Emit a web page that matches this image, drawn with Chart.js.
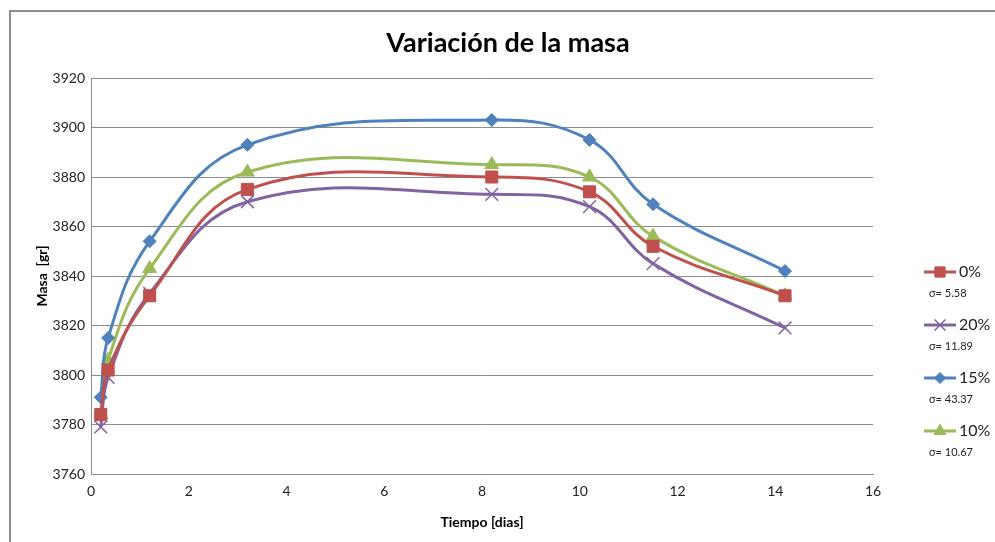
<!DOCTYPE html>
<html>
<head>
<meta charset="utf-8">
<script src="https://cdn.jsdelivr.net/npm/chart.js@4/dist/chart.umd.min.js"></script>
<style>
  html, body { margin: 0; padding: 0; background: #fff; }
  #wrap { position: relative; width: 995px; height: 542px; overflow: hidden; }
  #frame { position: absolute; left: 9px; top: 10px; width: 1000px; height: 600px; border: 2px solid #8c8c8c; box-sizing: border-box; }
  #masaChart { position: absolute; left: 0; top: 0; }
</style>
</head>
<body>
<div id="wrap">
  <div id="frame"></div>
  <canvas id="masaChart" width="995" height="542"></canvas>
</div>
<script>
// tiempo en dias
var tiempo = [0.2, 0.35, 1.2, 3.2, 8.2, 10.2, 11.5, 14.2]

// masa [gr] por porcentaje
var masa0 = [3784, 3802, 3832, 3875, 3880, 3874, 3852, 3832]
var masa20 = [3779, 3799, 3833, 3870, 3873, 3868, 3845, 3819]
var masa15 = [3791, 3815, 3854, 3893, 3903, 3895, 3869, 3842]
var masa10 = [3784, 3806, 3843, 3882, 3885, 3880, 3856, 3832]

var etiquetas = ['0%', '20%', '15%', '10%']
var sigmas = ['σ= 5.58', 'σ= 11.89', 'σ= 43.37', 'σ= 10.67']
var colores = ['#C0504D', '#8064A2', '#4F81BD', '#9BBB59']
var marcadores = ['rect', 'crossRot', 'rectRot', 'triangle']
var radios = [8.5, 9, 6.5, 8]

var yTicks = [3760, 3780, 3800, 3820, 3840, 3860, 3880, 3900, 3920]
var xTicks = [0, 2, 4, 6, 8, 10, 12, 14, 16]

var titulo = 'Variación de la masa'
var fuente = 'Lato, "Open Sans", sans-serif'

function puntos(serie) {
    return tiempo.map(function (t, i) { return { x: t, y: serie[i] } })
}

var series = [masa0, masa20, masa15, masa10]
var datasets = series.map(function (s, i) {
    return {
        label: etiquetas[i],
        data: puntos(s),
        borderColor: colores[i],
        backgroundColor: colores[i],
        borderWidth: 3,
        pointStyle: marcadores[i],
        pointRadius: radios[i],
        pointBorderWidth: marcadores[i] === 'crossRot' ? 1.5 : 1,
        pointBorderColor: colores[i],
        tension: 0.4,
        fill: false
    }
})

// titulo centrado en toda la figura + leyenda a la derecha con sigma
var extras = {
    id: 'extras',
    afterDraw: function (chart) {
        var ctx = chart.ctx
        ctx.save()
        ctx.fillStyle = '#000'
        ctx.font = 'bold 27px ' + fuente
        ctx.textAlign = 'center'
        ctx.textBaseline = 'alphabetic'
        ctx.fillText(titulo, 508, 52)

        datasets.forEach(function (d, i) {
            var y = 272 + i * 53
            ctx.strokeStyle = d.borderColor
            ctx.lineWidth = 3
            ctx.beginPath()
            ctx.moveTo(924, y)
            ctx.lineTo(956, y)
            ctx.stroke()
            ctx.fillStyle = d.borderColor
            ctx.lineWidth = d.pointBorderWidth
            Chart.helpers.drawPoint(ctx, {
                pointStyle: d.pointStyle,
                radius: d.pointRadius * 0.85,
                borderWidth: d.pointBorderWidth
            }, 940, y)
            ctx.fillStyle = '#222'
            ctx.font = '16px ' + fuente
            ctx.textBaseline = 'middle'
            ctx.textAlign = 'left'
            ctx.fillText(d.label, 959, y)
            ctx.font = '11px ' + fuente
            ctx.fillText(sigmas[i], 929, y + 21)
        })
        ctx.restore()
    }
}

var ctx = document.getElementById('masaChart').getContext('2d')
new Chart(ctx, {
    type: 'line',
    data: { datasets: datasets },
    options: {
        responsive: false,
        animation: false,
        layout: { padding: { left: 30, right: 122, top: 78, bottom: 7 } },
        plugins: {
            legend: { display: false },
            tooltip: { enabled: false },
            title: { display: false }
        },
        scales: {
            x: {
                type: 'linear',
                min: 0,
                max: 16,
                afterBuildTicks: function (axis) {
                    axis.ticks = xTicks.map(function (v) { return { value: v } })
                },
                afterFit: function (axis) { axis.height = 61 },
                grid: { display: false, drawTicks: false },
                border: { display: true, color: '#8c8c8c', width: 1 },
                ticks: {
                    color: '#222', padding: 9,
                    font: { family: fuente, size: 14 },
                    callback: function (v) { return v }
                },
                title: {
                    display: true,
                    text: 'Tiempo [dias]',
                    color: '#000',
                    font: { family: fuente, size: 14, weight: 'bold' },
                    padding: { top: 4 }
                }
            },
            y: {
                min: 3760,
                max: 3920,
                afterBuildTicks: function (axis) {
                    axis.ticks = yTicks.map(function (v) { return { value: v } })
                },
                afterFit: function (axis) { axis.width = 61 },
                grid: { color: '#8c8c8c', lineWidth: 1, drawTicks: false },
                border: { display: true, color: '#8c8c8c', width: 1 },
                ticks: {
                    color: '#222', padding: 6,
                    font: { family: fuente, size: 14 },
                    callback: function (v) { return v }
                },
                title: {
                    display: true,
                    text: 'Masa  [gr]',
                    color: '#000',
                    font: { family: fuente, size: 14, weight: 'bold' },
                    padding: { bottom: 4 }
                }
            }
        }
    },
    plugins: [extras]
})
</script>
</body>
</html>
